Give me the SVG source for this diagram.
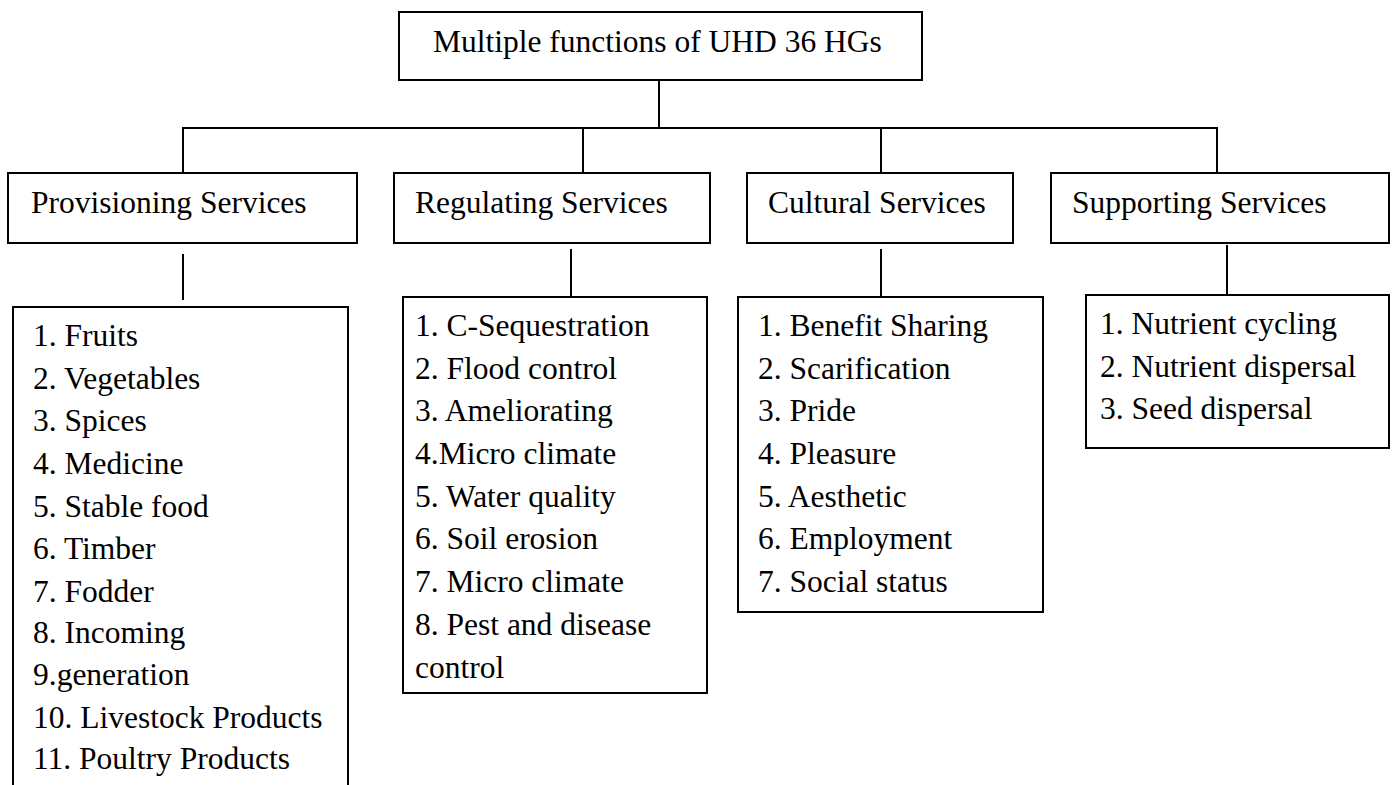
<svg xmlns="http://www.w3.org/2000/svg" width="1393" height="785" viewBox="0 0 1393 785">
  <style>
    .box { fill: #ffffff; stroke: #000000; stroke-width: 2; }
    .link { fill: none; stroke: #000000; stroke-width: 2; }
    text { font-family: "Liberation Serif", "Times New Roman", serif; font-size: 31.5px; fill: #000000; }
  </style>
  <rect width="1393" height="785" fill="#ffffff"/>

  <!-- connectors -->
  <g id="connectors">
    <line class="link" x1="659" y1="80" x2="659" y2="128"/>
    <line class="link" x1="182" y1="128" x2="1218" y2="128"/>
    <line class="link" x1="183" y1="128" x2="183" y2="173"/>
    <line class="link" x1="583" y1="128" x2="583" y2="173"/>
    <line class="link" x1="881" y1="128" x2="881" y2="173"/>
    <line class="link" x1="1217" y1="128" x2="1217" y2="173"/>
    <line class="link" x1="183" y1="254" x2="183" y2="300"/>
    <line class="link" x1="571" y1="249" x2="571" y2="297"/>
    <line class="link" x1="881" y1="249" x2="881" y2="297"/>
    <line class="link" x1="1227" y1="245" x2="1227" y2="295"/>
  </g>

  <!-- root -->
  <g id="root">
    <rect class="box" x="399" y="12" width="523" height="68"/>
    <text x="433" y="52">Multiple functions of UHD 36 HGs</text>
  </g>

  <!-- service headers -->
  <g id="provisioning">
    <rect class="box" x="8" y="173" width="349" height="70"/>
    <text x="31" y="213">Provisioning Services</text>
  </g>
  <g id="regulating">
    <rect class="box" x="394" y="173" width="316" height="70"/>
    <text x="415" y="213">Regulating Services</text>
  </g>
  <g id="cultural">
    <rect class="box" x="747" y="173" width="266" height="70"/>
    <text x="768" y="213">Cultural Services</text>
  </g>
  <g id="supporting">
    <rect class="box" x="1051" y="173" width="338" height="70"/>
    <text x="1072" y="213">Supporting Services</text>
  </g>

  <!-- item lists -->
  <g id="provisioning-items">
    <path class="link" d="M13,800 V307 H348 V800"/>
    <text x="33" y="346">1. Fruits</text>
    <text x="33" y="389">2. Vegetables</text>
    <text x="33" y="431">3. Spices</text>
    <text x="33" y="474">4. Medicine</text>
    <text x="33" y="517">5. Stable food</text>
    <text x="33" y="559">6. Timber</text>
    <text x="33" y="602">7. Fodder</text>
    <text x="33" y="643">8. Incoming</text>
    <text x="33" y="685">9.generation</text>
    <text x="33" y="728">10. Livestock Products</text>
    <text x="33" y="769">11. Poultry Products</text>
  </g>
  <g id="regulating-items">
    <rect class="box" x="403" y="297" width="304" height="396"/>
    <text x="415" y="336">1. C-Sequestration</text>
    <text x="415" y="379">2. Flood control</text>
    <text x="415" y="421">3. Ameliorating</text>
    <text x="415" y="464">4.Micro climate</text>
    <text x="415" y="507">5. Water quality</text>
    <text x="415" y="549">6. Soil erosion</text>
    <text x="415" y="592">7. Micro climate</text>
    <text x="415" y="635">8. Pest and disease</text>
    <text x="415" y="678">control</text>
  </g>
  <g id="cultural-items">
    <rect class="box" x="738" y="297" width="305" height="315"/>
    <text x="758" y="336">1. Benefit Sharing</text>
    <text x="758" y="379">2. Scarification</text>
    <text x="758" y="421">3. Pride</text>
    <text x="758" y="464">4. Pleasure</text>
    <text x="758" y="507">5. Aesthetic</text>
    <text x="758" y="549">6. Employment</text>
    <text x="758" y="592">7. Social status</text>
  </g>
  <g id="supporting-items">
    <rect class="box" x="1086" y="295" width="303" height="153"/>
    <text x="1100" y="334">1. Nutrient cycling</text>
    <text x="1100" y="377">2. Nutrient dispersal</text>
    <text x="1100" y="419">3. Seed dispersal</text>
  </g>
</svg>
